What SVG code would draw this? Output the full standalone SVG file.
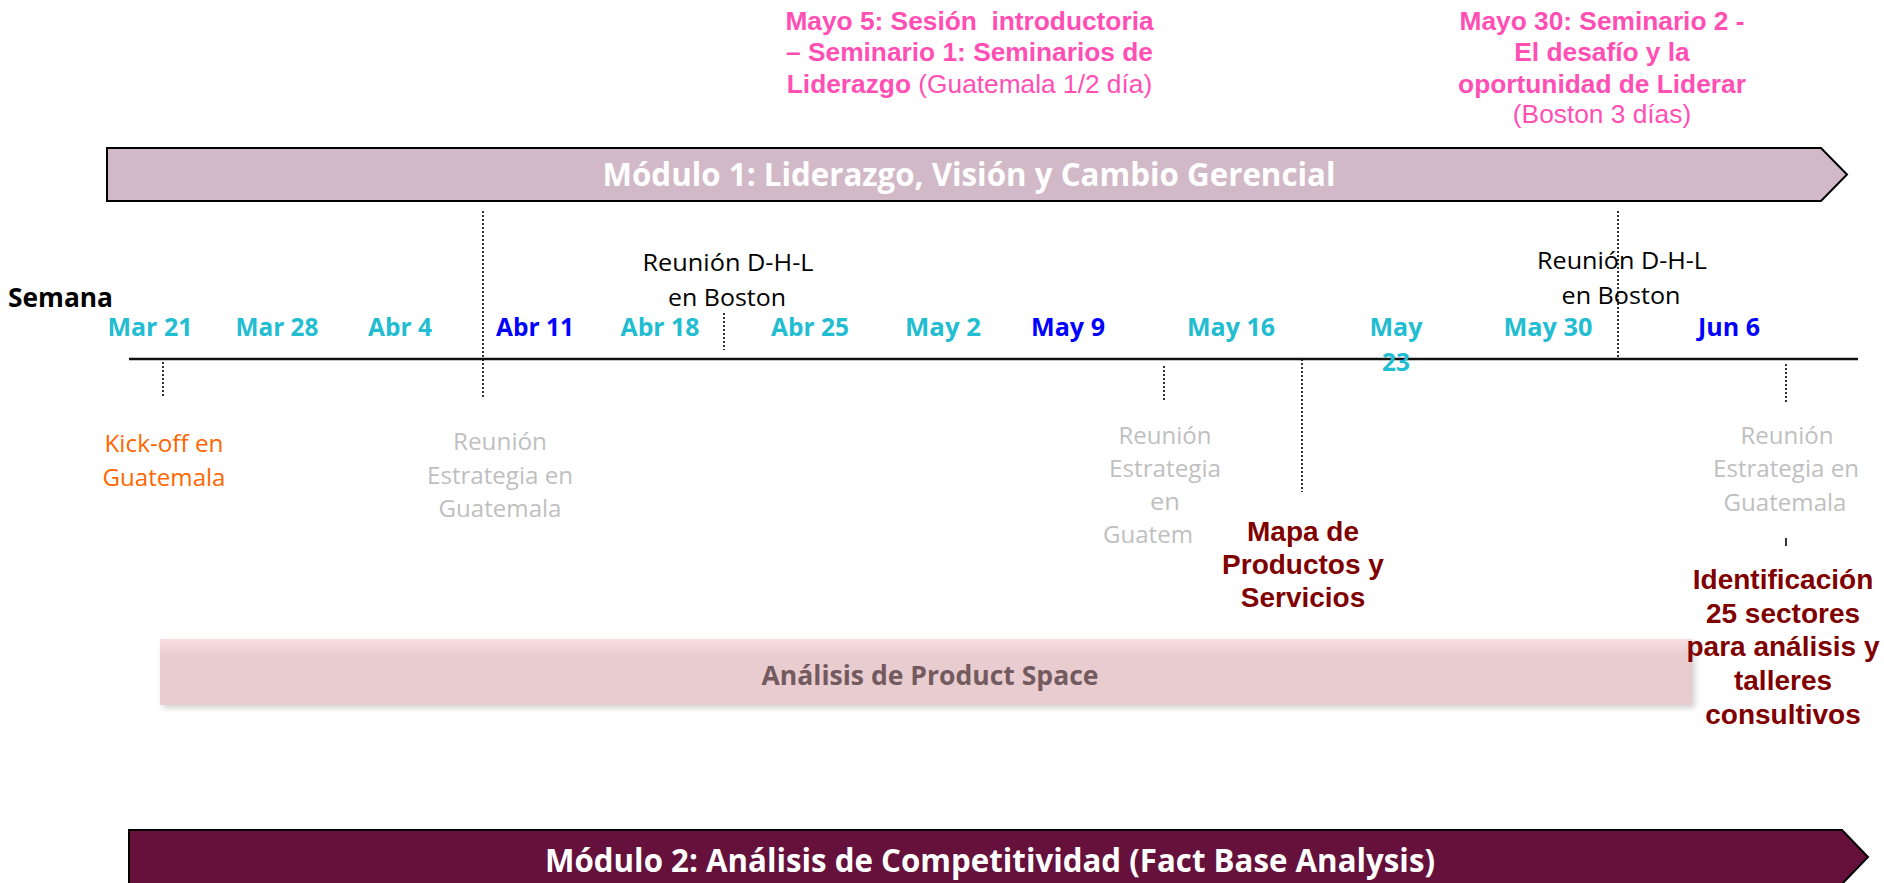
<svg xmlns="http://www.w3.org/2000/svg" width="1884" height="883" viewBox="0 0 1884 883">
<style>
.pink{font-family:"Liberation Sans",Arial,sans-serif;font-size:26.3px;fill:#FF4FB5;text-anchor:middle}
.b{font-weight:bold}
.mod{font-family:"Open Sans","Noto Sans",sans-serif;font-weight:bold;font-size:32px;fill:#FFFFFF;text-anchor:middle}
.wk{font-family:"Open Sans","Noto Sans",sans-serif;font-weight:bold;font-size:25.5px;text-anchor:middle}
.cy{fill:#22BDD0}
.bl{fill:#0000FF}
.lbl{font-family:"Open Sans","Noto Sans",sans-serif;font-size:24px;text-anchor:middle}
.gray{fill:#BFBFBF}
.red{font-family:"Liberation Sans",Arial,sans-serif;font-weight:bold;font-size:28px;fill:#800000;text-anchor:middle}
.dot{stroke:#000;stroke-width:1.6;stroke-dasharray:2 2;fill:none}
</style>
<defs>
<linearGradient id="psg" x1="0" y1="0" x2="0" y2="1">
<stop offset="0" stop-color="#F8DDE1"/>
<stop offset="0.25" stop-color="#E8CCD0"/>
<stop offset="1" stop-color="#E8CCD0"/>
</linearGradient>
<filter id="sh" x="-5%" y="-30%" width="110%" height="160%">
<feGaussianBlur stdDeviation="3"/>
</filter>
</defs>
<rect width="1884" height="883" fill="#FFFFFF"/>

<g id="seminario1">
<text class="pink b" x="969.5" y="29.5" xml:space="preserve">Mayo 5: Sesión  introductoria</text>
<text class="pink b" x="969.5" y="61">– Seminario 1: Seminarios de</text>
<text class="pink" x="969.5" y="92.5"><tspan class="b">Liderazgo</tspan> (Guatemala 1/2 día)</text>
</g>

<g id="seminario2">
<text class="pink b" x="1602" y="29.5">Mayo 30: Seminario 2 -</text>
<text class="pink b" x="1602" y="61">El desafío y la</text>
<text class="pink b" x="1602" y="92.5">oportunidad de Liderar</text>
<text class="pink" x="1602" y="123">(Boston 3 días)</text>
</g>

<g id="modulo1">
<polygon points="107,148 1821,148 1847,174.5 1821,201 107,201" fill="#D2B9C7" stroke="#000" stroke-width="2"/>
<text class="mod" x="969" y="186" textLength="733" lengthAdjust="spacingAndGlyphs">Módulo 1: Liderazgo, Visión y Cambio Gerencial</text>
</g>

<g id="producto-space">
<rect x="163" y="642" width="1532" height="66" fill="#000" opacity="0.18" filter="url(#sh)"/>
<rect x="160" y="639" width="1532" height="66" fill="url(#psg)"/>
<text x="930" y="685" font-family="Open Sans, Noto Sans, sans-serif" font-weight="bold" font-size="26px" fill="#735A5E" text-anchor="middle" textLength="337" lengthAdjust="spacingAndGlyphs">Análisis de Product Space</text>
</g>

<g id="modulo2">
<polygon points="129,830 1842,830 1868,857 1842,884 129,884" fill="#66103C" stroke="#000" stroke-width="2"/>
<text class="mod" x="990" y="872" textLength="890" lengthAdjust="spacingAndGlyphs">Módulo 2: Análisis de Competitividad (Fact Base Analysis)</text>
</g>

<g id="connectors">
<line x1="129" y1="359" x2="1858" y2="359" stroke="#111" stroke-width="2.6"/>
</g>

<g id="semana">
<text x="8" y="307" font-family="Open Sans, Noto Sans, sans-serif" font-weight="bold" font-size="26px" fill="#000" textLength="105" lengthAdjust="spacingAndGlyphs">Semana</text>
</g>

<g id="semanas">
<text class="wk cy" x="150" y="336" textLength="85" lengthAdjust="spacingAndGlyphs">Mar 21</text>
<text class="wk cy" x="277" y="336" textLength="83" lengthAdjust="spacingAndGlyphs">Mar 28</text>
<text class="wk cy" x="400" y="336" textLength="64" lengthAdjust="spacingAndGlyphs">Abr 4</text>
<text class="wk bl" x="535" y="336" textLength="78" lengthAdjust="spacingAndGlyphs">Abr 11</text>
<text class="wk cy" x="660" y="336" textLength="79" lengthAdjust="spacingAndGlyphs">Abr 18</text>
<text class="wk cy" x="810" y="336" textLength="78" lengthAdjust="spacingAndGlyphs">Abr 25</text>
<text class="wk cy" x="943" y="336" textLength="76" lengthAdjust="spacingAndGlyphs">May 2</text>
<text class="wk bl" x="1068" y="336" textLength="74" lengthAdjust="spacingAndGlyphs">May 9</text>
<text class="wk cy" x="1231" y="336" textLength="88" lengthAdjust="spacingAndGlyphs">May 16</text>
<text class="wk cy" x="1396" y="336" textLength="53" lengthAdjust="spacingAndGlyphs">May</text>
<text class="wk cy" x="1396" y="371" textLength="28" lengthAdjust="spacingAndGlyphs">23</text>
<text class="wk cy" x="1548" y="336" textLength="89" lengthAdjust="spacingAndGlyphs">May 30</text>
<text class="wk bl" x="1729" y="336" textLength="62" lengthAdjust="spacingAndGlyphs">Jun 6</text>
</g>

<g id="dhl1">
<text class="lbl" x="728" y="271" fill="#000" textLength="171" lengthAdjust="spacingAndGlyphs">Reunión D-H-L</text>
<text class="lbl" x="727" y="306" fill="#000" textLength="118" lengthAdjust="spacingAndGlyphs">en Boston</text>
</g>

<g id="dhl2">
<text class="lbl" x="1622" y="269" fill="#000" textLength="170" lengthAdjust="spacingAndGlyphs">Reunión D-H-L</text>
<text class="lbl" x="1621" y="304" fill="#000" textLength="119" lengthAdjust="spacingAndGlyphs">en Boston</text>
</g>

<g id="kickoff">
<text class="lbl" x="164" y="452" fill="#FF6600" textLength="119" lengthAdjust="spacingAndGlyphs">Kick-off en</text>
<text class="lbl" x="164" y="486" fill="#FF6600" textLength="123" lengthAdjust="spacingAndGlyphs">Guatemala</text>
</g>

<g id="estrategia1">
<text class="lbl gray" x="500" y="450" textLength="94" lengthAdjust="spacingAndGlyphs">Reunión</text>
<text class="lbl gray" x="500" y="483.5" textLength="146" lengthAdjust="spacingAndGlyphs">Estrategia en</text>
<text class="lbl gray" x="500" y="517" textLength="123" lengthAdjust="spacingAndGlyphs">Guatemala</text>
</g>

<g id="estrategia2">
<text class="lbl gray" x="1165" y="444" textLength="93" lengthAdjust="spacingAndGlyphs">Reunión</text>
<text class="lbl gray" x="1165" y="477" textLength="112" lengthAdjust="spacingAndGlyphs">Estrategia</text>
<text class="lbl gray" x="1165" y="510" textLength="30" lengthAdjust="spacingAndGlyphs">en</text>
<text class="lbl gray" x="1103" y="543" style="text-anchor:start" textLength="90" lengthAdjust="spacingAndGlyphs">Guatem</text>
</g>

<g id="estrategia3">
<text class="lbl gray" x="1787" y="444" textLength="93" lengthAdjust="spacingAndGlyphs">Reunión</text>
<text class="lbl gray" x="1786" y="477" textLength="146" lengthAdjust="spacingAndGlyphs">Estrategia en</text>
<text class="lbl gray" x="1785" y="511" textLength="123" lengthAdjust="spacingAndGlyphs">Guatemala</text>
</g>

<g id="mapa">
<text class="red" x="1303" y="541">Mapa de</text>
<text class="red" x="1303" y="574">Productos y</text>
<text class="red" x="1303" y="607">Servicios</text>
</g>

<g id="identificacion">
<text class="red" x="1783" y="589">Identificación</text>
<text class="red" x="1783" y="622.5">25 sectores</text>
<text class="red" x="1783" y="656">para análisis y</text>
<text class="red" x="1783" y="690">talleres</text>
<text class="red" x="1783" y="723.5">consultivos</text>
</g>

<g id="dotted-connectors">
<line class="dot" x1="483" y1="211" x2="483" y2="397"/>
<line class="dot" x1="724" y1="313" x2="724" y2="350"/>
<line class="dot" x1="163" y1="362" x2="163" y2="398"/>
<line class="dot" x1="1164" y1="366" x2="1164" y2="401"/>
<line class="dot" x1="1302" y1="359" x2="1302" y2="492"/>
<line class="dot" x1="1618" y1="211" x2="1618" y2="358"/>
<line class="dot" x1="1786" y1="364" x2="1786" y2="402"/>
<line x1="1786" y1="538" x2="1786" y2="546" stroke="#000" stroke-width="1.6"/>
</g>
</svg>
